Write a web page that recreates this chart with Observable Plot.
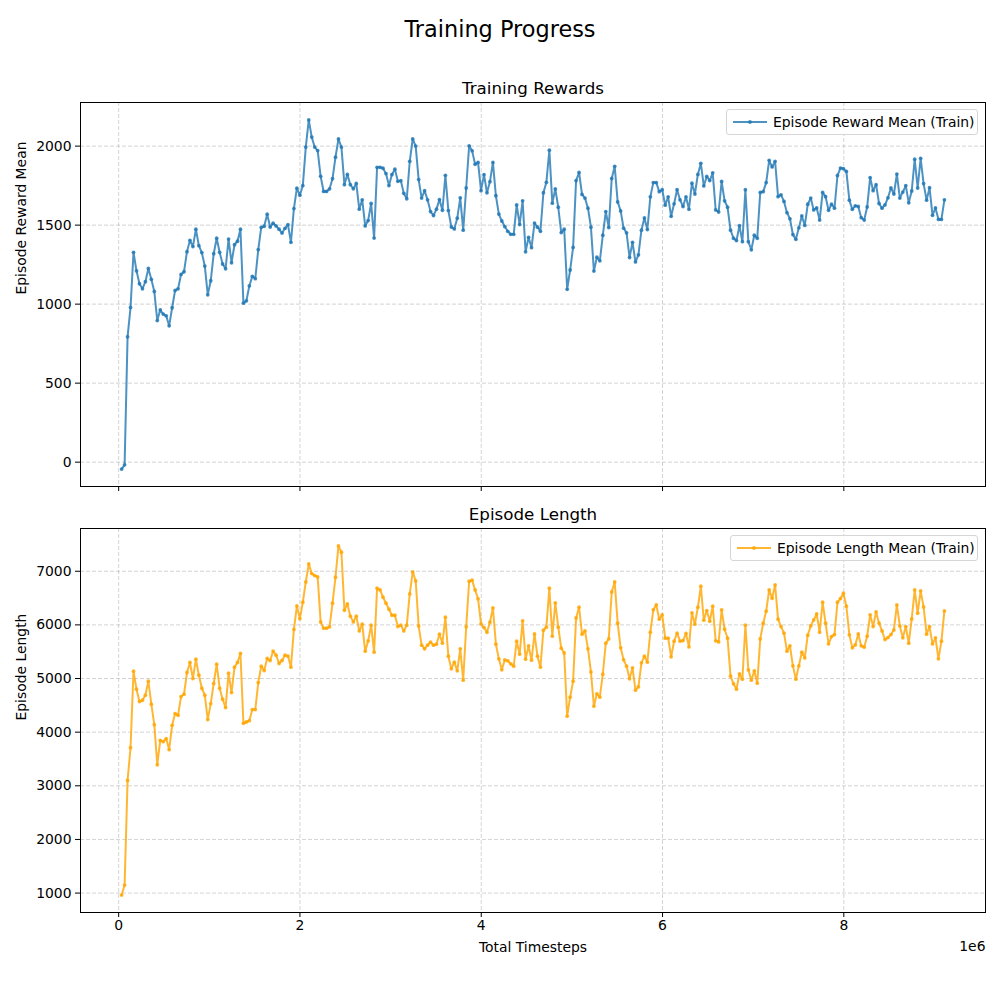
<!DOCTYPE html>
<html>
<head>
<meta charset="utf-8">
<script src="https://cdn.jsdelivr.net/npm/d3@7"></script>
<script src="https://cdn.jsdelivr.net/npm/@observablehq/plot@0.6"></script>
<style>
  body { margin: 0; background: #fff; font-family: "DejaVu Sans", sans-serif; }
  #fig { position: relative; width: 1000px; height: 1000px; overflow: hidden; background: #fff; }
  .abs { position: absolute; }
  .legend { position: absolute; border: 1px solid #d6d6d6; border-radius: 3px; background: rgba(255,255,255,0.85);
            font-size: 13.9px; color: #000; display: flex; align-items: center; box-sizing: border-box; white-space: nowrap; }
  .legend svg { display: block; }
</style>
</head>
<body>
<div id="fig">
  <div class="abs" style="left:0;top:16px;width:1000px;text-align:center;font-size:22.4px;color:#000;">Training Progress</div>
  <div id="p1" class="abs" style="left:0;top:60px;"></div>
  <div id="p2" class="abs" style="left:0;top:500px;"></div>
  <div id="leg1" class="legend" style="left:726px;top:109px;width:252px;height:26px;"></div>
  <div id="leg2" class="legend" style="left:730px;top:535px;width:248px;height:26px;"></div>
</div>
<script>
// ---- data ----
const rewardMean = [
  -44, -17, 793, 979, 1328, 1211, 1129, 1097, 1142, 1226, 1157, 1080, 896, 964, 937, 926, 863, 977, 1087, 1097,
  1188, 1205, 1332, 1404, 1364, 1474, 1370, 1326, 1241, 1059, 1148, 1319, 1417, 1328, 1254, 1224, 1412, 1262, 1376, 1398,
  1474, 1006, 1021, 1116, 1176, 1161, 1345, 1486, 1493, 1569, 1488, 1512, 1495, 1474, 1450, 1480, 1503, 1391, 1605, 1734, 1689,
  1750, 1994, 2166, 2057, 1994, 1972, 1809, 1713, 1713, 1730, 1794, 1930, 2045, 1994, 1756, 1821, 1756, 1730, 1764, 1601,
  1660, 1495, 1529, 1637, 1418, 1866, 1866, 1860, 1826, 1750, 1820, 1854, 1777, 1781, 1701, 1667, 1904, 2045, 2000, 1788,
  1671, 1718, 1660, 1586, 1561, 1601, 1662, 1594, 1815, 1592, 1488, 1476, 1544,
  1673, 1468, 1735, 2002, 1970, 1885, 1897, 1718, 1820, 1705, 1775, 1897, 1686, 1570, 1526, 1491, 1461, 1442, 1442, 1628,
  1504, 1654, 1331, 1423, 1357, 1513, 1487, 1461, 1705, 1771, 1974, 1639, 1729, 1613, 1453, 1474, 1094, 1216, 1359, 1782,
  1833, 1694, 1671, 1607, 1487, 1209, 1297, 1274, 1436, 1586, 1485, 1795, 1872,
  1647, 1590, 1481, 1451, 1295, 1391, 1267, 1312, 1468, 1545, 1472, 1679, 1769, 1769, 1712, 1724, 1626, 1679, 1556, 1635,
  1724, 1660, 1618, 1679, 1600, 1765, 1697, 1821, 1891, 1748, 1808, 1782, 1831, 1596, 1583, 1776, 1654, 1613, 1468, 1417,
  1402, 1496, 1395, 1724, 1395, 1344, 1436, 1417, 1707, 1712, 1769,
  1910, 1868, 1904, 1680, 1692, 1650, 1579, 1540, 1440, 1410, 1483, 1558, 1498, 1632, 1671, 1596, 1609, 1532, 1707, 1680,
  1594, 1632, 1607, 1814, 1861, 1857, 1840, 1658, 1600, 1622, 1618, 1547, 1532, 1615, 1801, 1718, 1756, 1637, 1607, 1628,
  1673, 1735, 1697, 1823, 1671, 1709, 1750, 1641, 1716, 1917, 1735, 1923, 1763, 1658, 1737, 1562, 1609, 1536, 1536, 1660
];
const lengthMean = [
  963, 1150, 3100, 3711, 5137, 4801, 4570, 4595, 4689, 4950, 4521, 4140, 3393, 3848, 3823, 3879, 3673, 4128, 4346, 4315,
  4664, 4707, 5112, 5299, 5000, 5361, 5062, 4819, 4689, 4234, 4533, 4907, 5268, 4819, 4614, 4458, 5100, 4739, 5212, 5299,
  5467, 4165, 4190, 4215, 4421, 4421, 4925, 5231, 5150, 5374, 5336, 5511, 5436, 5280, 5336, 5436, 5418, 5212, 5916, 6352, 6115,
  6422, 6801, 7137, 6957, 6919, 6894, 6056, 5938, 5938, 5963, 6404, 6888, 7472, 7354, 6273, 6391, 6162, 6056, 6162, 5888,
  6013, 5510, 5702, 5994, 5491, 6683, 6652, 6516, 6404, 6292, 6180, 6180, 5969, 5994, 5888, 5994, 6578, 6988, 6820, 5981,
  5621, 5553, 5621, 5677, 5621, 5640, 5826, 5659, 6143, 5416, 5180, 5305, 5143,
  5553, 4969, 5963, 6814, 6832, 6652, 6485, 6019, 5950, 5863, 6050, 6317, 5640, 5367, 5162, 5348, 5330, 5274, 5230, 5696,
  5454, 6075, 5361, 5609, 5342, 5832, 5416, 5211, 5901, 5957, 6683, 5789, 6410, 5957, 5565, 5478, 4298, 4652, 4950, 6130,
  6329, 5826, 5888, 5553, 5124, 4485, 4715, 4652, 5081, 5659, 5739, 6615, 6801,
  6031, 5572, 5348, 5230, 4994, 5199, 4783, 4845, 5292, 5416, 5305, 5863, 6280, 6373, 6106, 6187, 5752, 5752, 5404, 5696,
  5845, 5696, 5708, 5839, 5590, 6224, 6013, 6329, 6720, 6087, 6267, 6068, 6348, 5702, 5683, 6280, 5919, 5752, 5044, 4901,
  4802, 5087, 4988, 5994, 5162, 4969, 5143, 4913, 5739, 6031, 6255,
  6652, 6497, 6745, 6106, 5969, 5845, 5510, 5609, 5236, 4988, 5236, 5491, 5385, 5808, 5981, 6093, 6205, 5863, 6422, 6031,
  5646, 5783, 5820, 6422, 6491, 6590, 6348, 5814, 5572, 5627, 5832, 5609, 5584, 5789, 6187, 5969, 6242, 6031, 5888, 5727,
  5764, 5820, 5907, 6373, 5981, 5758, 5969, 5658, 6112, 6652, 6217, 6633, 6335, 5826, 5969, 5646, 5758, 5367, 5696, 6261
];
const stepsPerRollout = 32768;
const xTicks = [0, 2e6, 4e6, 6e6, 8e6];
const rewardTicks = [0, 500, 1000, 1500, 2000];
const lengthTicks = [1000, 2000, 3000, 4000, 5000, 6000, 7000];
const titles = ["Training Rewards", "Episode Length"];
const yLabels = ["Episode Reward Mean", "Episode Length"];
const legendLabels = ["Episode Reward Mean (Train)", "Episode Length Mean (Train)"];
const xLabel = "Total Timesteps";
const offsetText = "1e6";

const blue = "#1f77b4";
const orange = "#ffa500";

const rows = rewardMean.map((r, i) => ({ t: (i + 1) * stepsPerRollout, reward: r, length: lengthMean[i] }));

const font = { fontFamily: "DejaVu Sans", fontSize: "13.9px", color: "#000", background: "transparent", overflow: "visible" };
const gridOpts = { stroke: "#b0b0b0", strokeOpacity: 0.7, strokeDasharray: "4,2", strokeWidth: 0.8 };
const xDomain = [-0.421e6, 9.563e6];

function panel({ height, marginTop, marginBottom, yDomain, yTicks, key, color, title, ylabel, bottom }) {
  const marks = [
    Plot.gridX(xTicks, gridOpts),
    Plot.gridY(yTicks, gridOpts),
    Plot.line(rows, { x: "t", y: key, stroke: color, strokeOpacity: 0.8, strokeWidth: 2 }),
    Plot.dot(rows, { x: "t", y: key, r: 1.9, fill: color, fillOpacity: 0.8, stroke: "none" }),
    Plot.frame({ stroke: "#000", strokeWidth: 1 }),
    Plot.axisY({ ticks: yTicks, tickSize: 5, tickPadding: 4, label: null, tickFormat: d => String(d) }),
    Plot.text([title], { text: d => d, frameAnchor: "top", lineAnchor: "middle", dy: -14, fontSize: 16.7 }),
    Plot.text([ylabel], { text: d => d, frameAnchor: "left", lineAnchor: "middle", dx: -59, rotate: -90 })
  ];
  if (bottom) {
    marks.push(Plot.axisX({ ticks: xTicks, tickSize: 5, tickPadding: 3, label: null, tickFormat: d => String(d / 1e6) }));
    marks.push(Plot.text([xLabel], { text: d => d, frameAnchor: "bottom", lineAnchor: "middle", dy: 35 }));
    marks.push(Plot.text([offsetText], { text: d => d, frameAnchor: "bottom-right", lineAnchor: "middle", dy: 34, textAnchor: "end" }));
  } else {
    marks.push(Plot.axisX({ ticks: xTicks, tickSize: 5, label: null, tickFormat: () => "" }));
  }
  return Plot.plot({
    width: 1000, height,
    marginLeft: 80, marginRight: 15, marginTop, marginBottom,
    style: font,
    x: { domain: xDomain },
    y: { domain: yDomain },
    marks
  });
}

document.getElementById("p1").appendChild(panel({
  height: 440, marginTop: 42, marginBottom: 14, yDomain: [-154, 2276], yTicks: rewardTicks,
  key: "reward", color: blue, title: titles[0], ylabel: yLabels[0], bottom: false
}));
document.getElementById("p2").appendChild(panel({
  height: 500, marginTop: 28, marginBottom: 88, yDomain: [638, 7797], yTicks: lengthTicks,
  key: "length", color: orange, title: titles[1], ylabel: yLabels[1], bottom: true
}));

function legend(id, color, label) {
  const el = document.getElementById(id);
  const ns = "http://www.w3.org/2000/svg";
  const svg = document.createElementNS(ns, "svg");
  svg.setAttribute("width", 46); svg.setAttribute("height", 24);
  const line = document.createElementNS(ns, "line");
  line.setAttribute("x1", 6); line.setAttribute("x2", 40); line.setAttribute("y1", 12); line.setAttribute("y2", 12);
  line.setAttribute("stroke", color); line.setAttribute("stroke-opacity", 0.8); line.setAttribute("stroke-width", 2);
  const c = document.createElementNS(ns, "circle");
  c.setAttribute("cx", 23); c.setAttribute("cy", 12); c.setAttribute("r", 1.9);
  c.setAttribute("fill", color); c.setAttribute("fill-opacity", 0.8);
  svg.appendChild(line); svg.appendChild(c);
  const span = document.createElement("span");
  span.textContent = label;
  el.appendChild(svg); el.appendChild(span);
}
legend("leg1", blue, legendLabels[0]);
legend("leg2", orange, legendLabels[1]);
</script>
</body>
</html>
